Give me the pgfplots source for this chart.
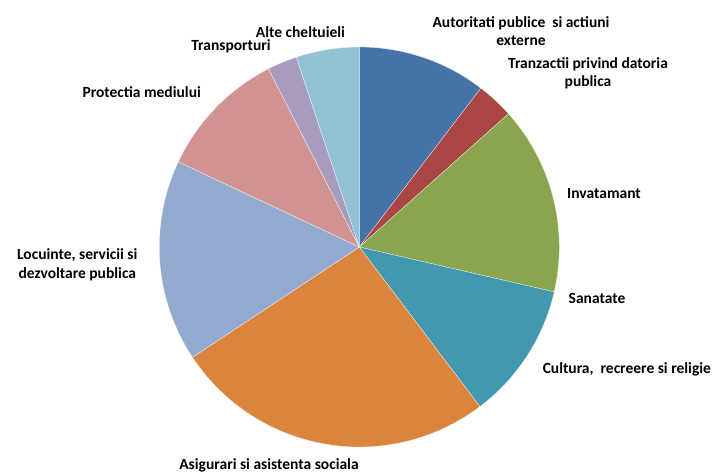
\documentclass[border=0pt]{standalone}
\usepackage{pgfplots}
\pgfplotsset{compat=1.18}
\usepackage{fontspec}
\setmainfont{Carlito}

\definecolor{cAut}{HTML}{4572A7}
\definecolor{cTra}{HTML}{AA4643}
\definecolor{cInv}{HTML}{89A54E}
\definecolor{cSan}{HTML}{80699B}
\definecolor{cCul}{HTML}{4198AF}
\definecolor{cAsi}{HTML}{DB843D}
\definecolor{cLoc}{HTML}{93A9CF}
\definecolor{cPro}{HTML}{D19392}
\definecolor{cTrp}{HTML}{A99BBD}
\definecolor{cAlt}{HTML}{92C3D4}

\tikzset{lbl/.style={font=\fontsize{15.5bp}{18.5bp}\selectfont\bfseries, align=center, text=black, inner sep=0pt}}

% one slice: share in percent, colour; slices run clockwise from the top
\xdef\startang{90}
\newcommand\slice[2]{%
  \pgfmathsetmacro\endang{\startang-3.6*#1}%
  \ifdim #1pt>0pt
    \edef\temp{\noexpand\addplot[fill=#2, draw=white!85!#2, line width=0.3pt,
      domain=\endang:\startang, samples=90, variable=\noexpand\t]
      ({cos(\noexpand\t)},{sin(\noexpand\t)}) -- (axis cs:0,0) -- cycle;}%
    \temp
  \fi
  \xdef\startang{\endang}%
}

\begin{document}
\begin{tikzpicture}
\begin{axis}[
  x=200bp, y=200bp,
  xmin=-1.7965, xmax=1.7735,
  ymin=-1.125, ymax=1.235,
  axis line style={draw=none},
  ticks=none,
  clip=false,
]
  \slice{10.4}{cAut} % Autoritati publice si actiuni externe
  \slice{3.0}{cTra}  % Tranzactii privind datoria publica
  \slice{15.2}{cInv} % Invatamant
  \slice{0}{cSan}    % Sanatate
  \slice{11.1}{cCul} % Cultura, recreere si religie
  \slice{26.0}{cAsi} % Asigurari si asistenta sociala
  \slice{16.3}{cLoc} % Locuinte, servicii si dezvoltare publica
  \slice{10.5}{cPro} % Protectia mediului
  \slice{2.4}{cTrp}  % Transporturi
  \slice{5.1}{cAlt}  % Alte cheltuieli

  \node[lbl] at (axis cs:0.8085,1.08) {Autoritati publice\ \ si actiuni\\externe};
  \node[lbl] at (axis cs:1.1435,0.8675) {Tranzactii privind datoria\\publica};
  \node[lbl] at (axis cs:1.2235,0.2685) {Invatamant};
  \node[lbl] at (axis cs:1.1885,-0.255) {Sanatate};
  \node[lbl] at (axis cs:1.338,-0.61) {Cultura,\ \ recreere si religie};
  \node[lbl] at (axis cs:-0.4515,-1.09) {Asigurari si asistenta sociala};
  \node[lbl] at (axis cs:-1.41,-0.09) {Locuinte, servicii si\\dezvoltare publica};
  \node[lbl] at (axis cs:-1.088,0.7765) {Protectia mediului};
  \node[lbl] at (axis cs:-0.6415,1.005) {Transporturi};
  \node[lbl] at (axis cs:-0.294,1.0765) {Alte cheltuieli};
\end{axis}
\end{tikzpicture}
\end{document}
